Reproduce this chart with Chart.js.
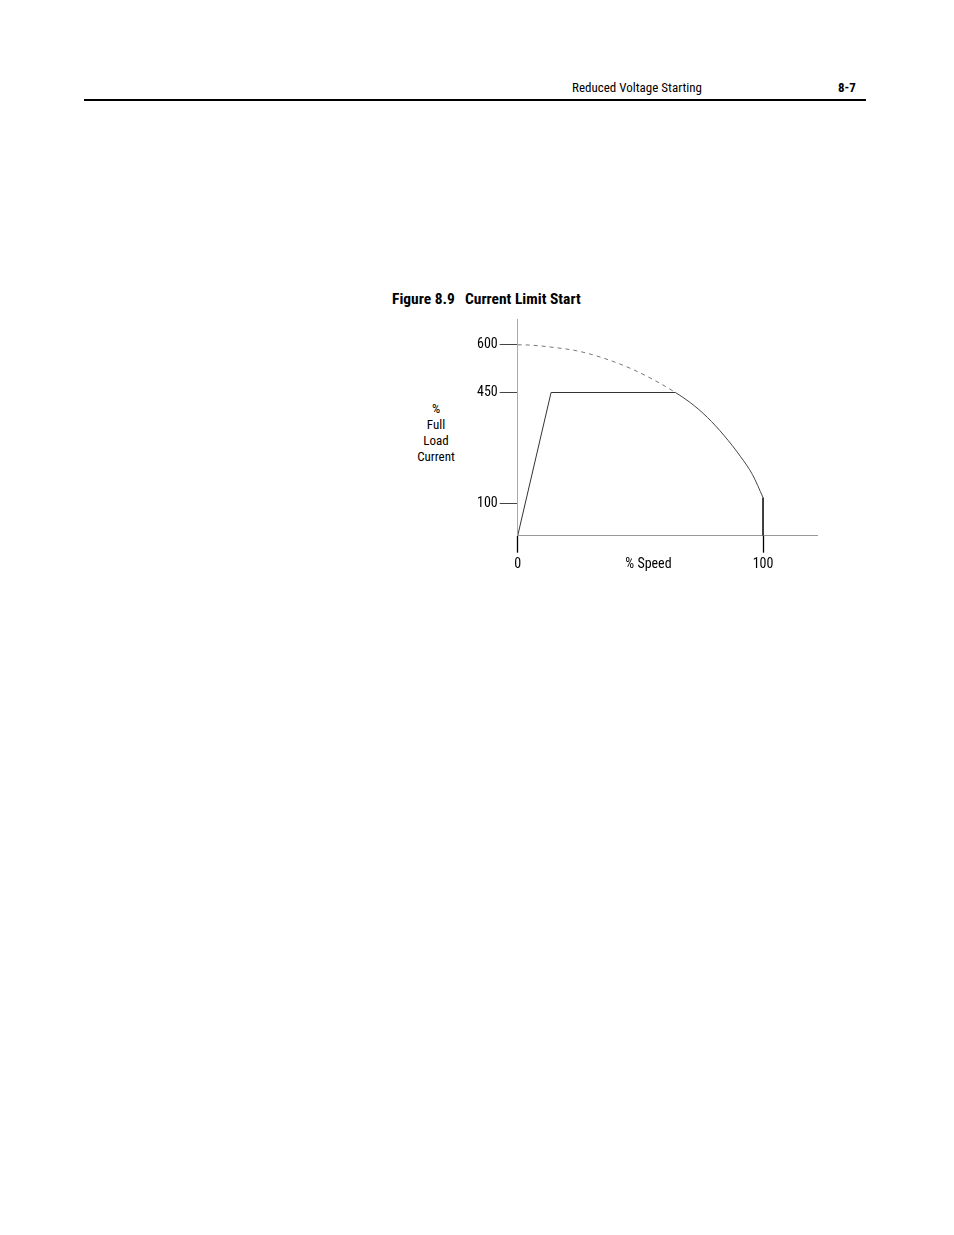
<!DOCTYPE html>
<html>
<head>
<meta charset="utf-8">
<script src="https://cdn.jsdelivr.net/npm/chart.js@4.4.0/dist/chart.umd.min.js"></script>
<style>
  html, body { margin: 0; padding: 0; background: #fff; }
  body { width: 954px; height: 1235px; position: relative; overflow: hidden;
         font-family: 'Liberation Sans Narrow', 'Roboto Condensed', 'Liberation Sans', Arial, sans-serif; color: #000; }
  .hdr { position: absolute; top: 80px; font-size: 13px; }
  .rule { position: absolute; left: 84px; top: 99px; width: 782px; height: 2px; background: #000; }
  .figtitle { position: absolute; top: 290px; font-size: 15.5px; font-weight: bold; white-space: pre; }
  .ytitle { position: absolute; left: 396px; top: 401px; width: 80px; text-align: center; font-size: 13px; line-height: 16px; color: #000; }
  #wrap { position: absolute; left: 440px; top: 300px; width: 400px; height: 290px; }
</style>
</head>
<body>
<div class="hdr" style="left:572px;">Reduced Voltage Starting</div>
<div class="hdr" style="left:838px;font-weight:bold;">8-7</div>
<div class="rule"></div>
<div class="figtitle" style="left:392px;">Figure 8.9</div>
<div class="figtitle" style="left:465px;">Current Limit Start</div>
<div class="ytitle">%<br>Full<br>Load<br>Current</div>
<div id="wrap"><canvas id="c" width="400" height="290"></canvas></div>
<script>
// Data (x: % speed, y: % full load current)
const rampX = [0, 13.6, 64.3];
const rampY = [0, 450, 450];
const dashX = [0, 5, 13.2, 24.1, 35, 45.9, 55.4, 64.3];
const dashY = [600, 599, 593, 581, 558, 526, 490, 450];
const curveX = [70.4, 77.3, 84.1, 90.9, 95.7, 100];
const curveY = [418, 372, 315, 248, 192, 120];
const dropX = [100, 100];
const dropY = [120, 0];
const joinX = 64.3;
const yTickValues = [100, 450, 600];
const xTickValues = [0, 53.3, 100];
const xTickLabels = ['0', '% Speed', '100'];

const pts = (xs, ys) => xs.map((x, i) => ({ x: x, y: ys[i] }));
const FONT = "'Liberation Sans Narrow', 'Roboto Condensed', 'Liberation Sans', Arial, sans-serif";
const fullCurve = pts(dashX.concat(curveX), dashY.concat(curveY));

new Chart(document.getElementById('c'), {
  type: 'scatter',
  data: {
    datasets: [
      { data: fullCurve, showLine: true, borderColor: '#444', borderWidth: 1,
        cubicInterpolationMode: 'monotone', pointRadius: 0,
        segment: {
          borderDash: ctx => ctx.p0.parsed.x < joinX - 0.01 ? [4, 4] : undefined,
          borderColor: ctx => ctx.p0.parsed.x < joinX - 0.01 ? '#777' : '#444'
        } },
      { data: pts(rampX, rampY), showLine: true, borderColor: '#333', borderWidth: 1,
        tension: 0, pointRadius: 0 },
      { data: pts(dropX, dropY), showLine: true, borderColor: '#000', borderWidth: 1.5,
        tension: 0, pointRadius: 0 }
    ]
  },
  options: {
    responsive: false,
    animation: false,
    layout: { padding: { top: 19, right: 23, left: 0, bottom: 0 } },
    plugins: { legend: { display: false }, tooltip: { enabled: false } },
    scales: {
      x: {
        type: 'linear', min: 0, max: 122,
        afterBuildTicks: s => { s.ticks = xTickValues.map(v => ({ value: v })); },
        afterFit: s => { s.height = 54.3; },
        border: { display: true, color: '#999', width: 1 },
        grid: { display: true, drawOnChartArea: false, drawTicks: true, tickLength: 17,
                tickColor: ctx => (ctx.tick && ctx.tick.value === 53.3) ? 'rgba(0,0,0,0)' : '#000',
                tickWidth: 1.3 },
        ticks: { autoSkip: false, maxRotation: 0, padding: 3, color: '#000',
                 font: { family: FONT, size: 14 },
                 callback: (v, i) => xTickLabels[i] }
      },
      y: {
        type: 'linear', min: 0, max: 681,
        afterBuildTicks: s => { s.ticks = yTickValues.map(v => ({ value: v })); },
        afterFit: s => { s.width = 77.7; },
        border: { display: true, color: '#aaa', width: 1 },
        grid: { display: true, drawOnChartArea: false, drawTicks: true, tickLength: 18,
                tickColor: '#444', tickWidth: 1 },
        ticks: { autoSkip: false, padding: 2, color: '#000',
                 font: { family: FONT, size: 14 } }
      }
    }
  }
});
</script>
</body>
</html>
